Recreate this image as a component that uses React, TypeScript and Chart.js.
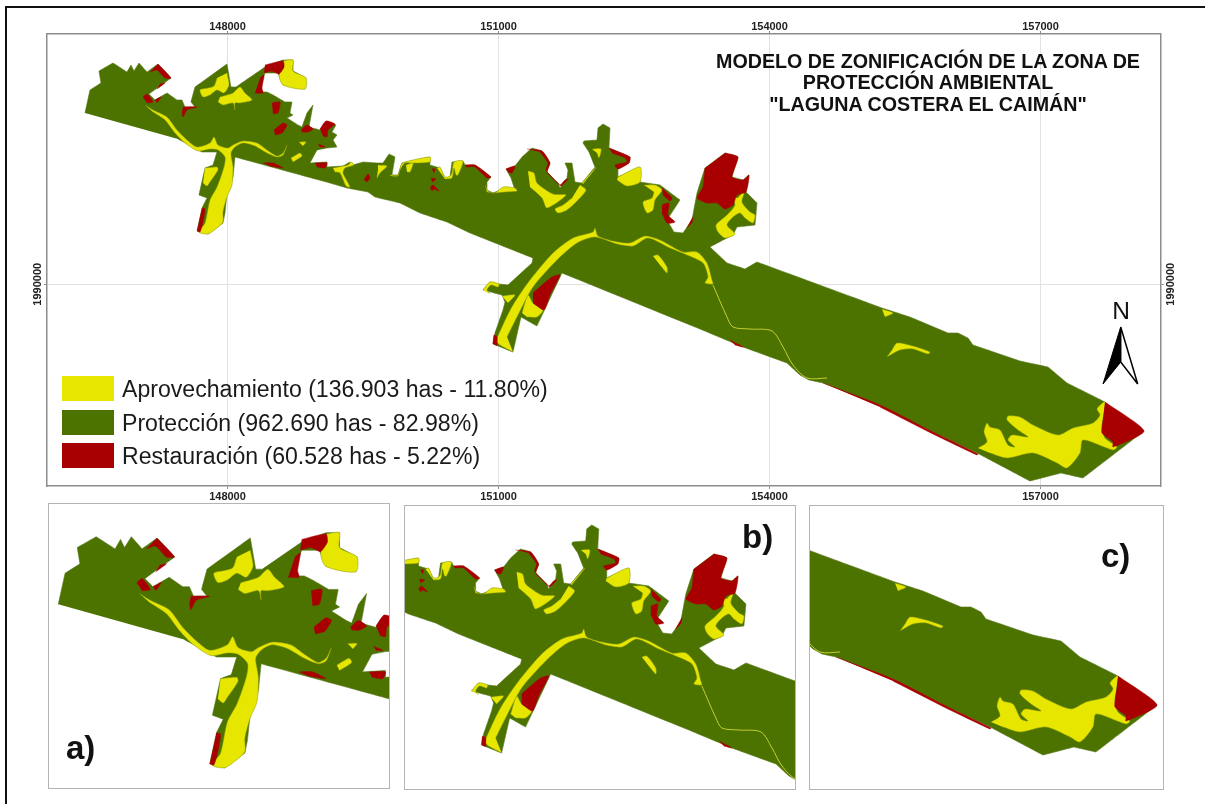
import React, { useEffect, useRef } from "react";
import { Chart, registerables } from "chart.js";

Chart.register(...registerables);

type Pt = [number, number];

const METRES_PER_STEP = 3000 / 271;
const toEasting = (c: number) => 148000 + (c - 227.5) * METRES_PER_STEP;
const toNorthing = (r: number) => 1990000 - (r - 284.3) * METRES_PER_STEP;

const eastingTicks = [148000, 151000, 154000, 157000];
const northingTicks = [1990000];

const protectionOutline: Pt[] = [
  [85,113],[90,90],[101,83],[99,71],[113,63],[127,72],[131,65],[134,71],[139,63],[147,72],[158,64],[171,78],[149,94],[155,100],[167,93],[177,100],[182,100],[185,107],[195,107],[191,102],[195,87],[227,64],[231,87],[236,87],[265,67],[283,60],[293,60],[293,71],[306,78],[305,89],[283,85],[278,73],[265,73],[260,87],[258,92],[267,92],[273,95],[285,102],[292,102],[290,113],[293,115],[287,118],[298,125],[302,127],[307,113],[313,105],[309,127],[320,130],[326,121],[336,125],[332,132],[337,135],[333,140],[337,147],[327,148],[317,150],[310,163],[327,162],[327,167],[343,166],
  [350,162],[353,165],[363,162],[377,163],[383,163],[389,154],[395,157],[392,175],[398,175],[402,163],[430,157],[430,165],[440,168],[445,178],[450,177],[452,162],[463,161],[465,165],[475,165],[491,177],[487,182],[487,190],[493,193],[503,189],
  [504,187],[515,190],[511,178],[506,169],[515,166],[522,157],[532,148],[542,151],[550,163],[547,172],[558,183],[560,188],[567,178],[568,170],[565,163],[572,163],[575,182],[582,183],[595,167],[589,152],[583,143],[584,141],[597,140],[598,128],[603,124],[610,128],[609,148],[630,157],[629,163],[618,169],[618,177],[640,167],[640,182],[660,185],[680,200],[667,220],[674,232],[683,233],[692,220],[697,193],[705,168],[725,153],[738,157],[732,177],[743,180],[749,175],[746,192],[752,198],[757,203],[755,225],[737,227],[733,235],[727,238],[710,247],[727,263],[745,269],[757,262],
  [882,308],[910,317],[948,333],[958,333],[968,338],[973,345],[1020,361],[1048,367],[1067,383],[1103,401],[1144,431],[1083,478],[1061,473],[1030,481],[979,454],[935,433],[880,405],[823,383],[809,380],[800,375],[787,363],[743,347],[700,329],[562,273],
  [537,326],[521,317],[513,352],[493,344],[495,333],[503,310],[505,302],[502,295],[483,290],[490,282],[499,284],[508,285],[532,263],[533,258],[470,233],[447,222],[420,213],[400,203],[375,197],[368,192],[347,188],[330,183],[235,157],[233,177],[227,193],[225,213],[223,223],[208,234],[197,231],[202,208],[207,198],[199,195],[205,168],[213,165],[217,152],[202,152],[178,139],
];

const aprovechamientoAreas: Pt[][] = [
  [[283,61],[293,60],[293,71],[306,78],[305,89],[283,85],[279,75],[284,67]],
  [[227,73],[229,85],[224,93],[217,90],[210,95],[203,97],[200,90],[208,88],[214,86],[217,78]],
  [[220,97],[227,95],[233,93],[240,87],[245,93],[252,100],[240,103],[235,103],[235,110],[233,103],[223,105],[218,102]],
  [[145,105],[153,110],[167,117],[177,130],[187,140],[197,147],[210,143],[214,137],[218,145],[228,148],[233,145],[243,141],[257,143],[267,150],[277,156],[283,153],[287,145],[283,155],[277,157],[267,153],[255,146],[243,143],[235,147],[231,153],[233,167],[232,185],[227,197],[223,212],[223,222],[217,228],[208,234],[199,232],[205,223],[210,200],[217,187],[224,167],[225,157],[218,150],[210,149],[198,151],[185,143],[175,133],[165,120],[153,112]],
  [[205,168],[217,167],[218,170],[210,182],[207,186],[203,183]],
  [[299,142],[306,142],[303,146]],
  [[291,158],[300,153],[302,156],[293,162]],
  [[333,168],[348,165],[351,162],[354,165],[345,168],[343,173],[350,187],[346,186],[340,173],[335,172]],
  [[378,165],[387,166],[380,173],[377,178],[378,170]],
  [[390,175],[398,175],[401,165],[405,162],[430,157],[430,162],[413,163],[405,163],[400,170],[398,176],[391,176]],
  [[406,165],[413,163],[410,172],[407,172]],
  [[437,168],[440,167],[445,177],[450,176],[452,173],[454,162],[463,161],[458,175],[456,175],[454,168],[452,178],[445,179]],
  [[485,185],[488,191],[495,193],[503,187],[515,188],[517,191],[505,192],[494,193],[487,192]],
  [[528,171],[534,173],[537,183],[553,194],[566,195],[547,208],[542,198],[530,187]],
  [[580,185],[586,190],[578,200],[567,210],[558,213],[555,209],[563,205],[572,198]],
  [[592,149],[601,149],[599,158],[597,153]],
  [[582,183],[596,167],[595,169],[583,184]],
  [[618,177],[640,167],[640,182],[627,186],[617,180]],
  [[644,185],[655,185],[662,190],[655,200],[653,210],[647,213],[643,202],[652,198],[654,192]],
  [[733,192],[737,198],[745,190],[742,202],[750,212],[755,215],[753,223],[745,218],[740,213],[733,217],[727,225],[735,234],[725,238],[718,232],[716,225],[727,215],[735,205],[732,198]],
  [[513,352],[497,342],[502,327],[513,305],[530,280],[553,253],[573,238],[593,232],[595,228],[598,236],[613,241],[630,243],[645,236],[660,240],[683,252],[697,252],[707,263],[712,280],[713,284],[705,283],[708,277],[703,263],[687,255],[670,248],[648,238],[633,246],[617,244],[595,237],[577,243],[557,260],[533,287],[517,317],[507,337]],
  [[522,313],[528,295],[533,303],[543,310],[537,317],[527,317]],
  [[483,290],[490,282],[499,284],[498,287],[491,285],[487,290],[490,294]],
  [[502,296],[515,295],[508,303]],
  [[653,256],[658,255],[667,267],[667,273],[660,265]],
  [[882,309],[893,313],[885,317]],
  [[887,357],[892,350],[897,343],[913,346],[930,352],[928,354],[913,349],[900,350],[892,354]],
  [[978,448],[987,442],[984,432],[987,423],[990,427],[1000,430],[1008,445],[1015,447],[1008,440],[1012,435],[1028,437],[1018,430],[1007,420],[1008,416],[1020,417],[1033,425],[1058,435],[1073,428],[1093,423],[1100,415],[1097,409],[1105,402],[1102,427],[1105,438],[1117,447],[1113,450],[1083,440],[1080,453],[1067,468],[1057,463],[1033,453],[1007,458],[990,453]],
];

const restauracionAreas: Pt[][] = [
  [[265,65],[283,61],[284,67],[279,74],[272,71],[264,73]],
  [[143,97],[147,94],[153,102],[147,103]],
  [[158,64],[171,78],[165,78],[157,70],[150,72]],
  [[160,84],[165,83],[157,89]],
  [[155,100],[161,97],[157,103]],
  [[183,107],[197,107],[187,110],[183,117],[182,112]],
  [[260,78],[264,75],[262,88],[263,93],[255,93]],
  [[272,103],[280,102],[278,113],[273,114]],
  [[274,130],[283,123],[287,125],[282,133],[275,135]],
  [[301,130],[307,125],[313,129],[308,132],[302,132]],
  [[320,129],[326,121],[335,124],[328,130],[327,137],[323,136]],
  [[318,144],[325,147],[320,147]],
  [[315,163],[327,163],[325,168],[317,167]],
  [[263,163],[273,163],[283,168],[270,166]],
  [[202,208],[205,209],[203,222],[200,232],[197,231]],
  [[364,180],[368,174],[370,178],[367,182]],
  [[432,169],[435,169],[434,173]],
  [[431,178],[436,179],[432,182]],
  [[430,188],[433,185],[439,191],[434,189],[432,191]],
  [[465,165],[475,165],[491,177],[487,178],[475,167],[466,167]],
  [[506,169],[515,166],[512,173],[508,172]],
  [[527,149],[542,151],[550,163],[547,172],[558,183],[561,186],[568,179],[565,180],[560,185],[553,178],[546,170],[548,163],[540,152]],
  [[609,148],[630,157],[629,163],[618,169],[615,165],[627,162],[625,158],[612,153]],
  [[662,188],[672,198],[670,201],[663,195]],
  [[662,205],[669,203],[668,215],[675,222],[667,223],[662,213]],
  [[725,153],[738,157],[732,177],[743,180],[749,175],[746,192],[737,195],[733,205],[725,209],[717,203],[707,203],[697,198],[703,187],[705,168]],
  [[687,228],[693,217],[692,223]],
  [[533,293],[542,285],[552,277],[560,275],[550,295],[544,310],[533,303]],
  [[493,344],[494,335],[497,337],[497,346]],
  [[730,340],[743,347],[735,345]],
  [[1105,402],[1144,431],[1113,447],[1113,442],[1102,433],[1103,420]],
  [[823,383],[880,405],[933,432],[978,454],[977,455],[933,434],[880,407]],
];

const riverChannel: Pt[] = [
  [713,285],[727,317],[733,327],[750,329],[772,331],[783,347],[793,365],[807,378],[827,378],
];

const legendRows = [
  { label: "Aprovechamiento (136.903 has - 11.80%)", color: "#e6e600" },
  { label: "Protección (962.690 has - 82.98%)", color: "#4c7300" },
  { label: "Restauración (60.528 has - 5.22%)", color: "#a80000" },
];
const titleLines = [
  "MODELO DE ZONIFICACIÓN DE LA ZONA DE",
  "PROTECCIÓN AMBIENTAL",
  "\"LAGUNA COSTERA EL CAIMÁN\"",
];

const YELLOW = legendRows[0].color;
const GREEN = legendRows[1].color;
const RED = legendRows[2].color;
const FONT = "'Liberation Sans', Arial, sans-serif";

const toPoints = (p: Pt[]) => p.map(([c, r]) => ({ x: toEasting(c), y: toNorthing(r) }));

function mapDatasets(): any[] {
  // a non-zero tension keeps every vertex and rounds the digitised patches
  const poly = (p: Pt[], fill: string, edge: string, w: number, order: number, tension: number) => ({
    data: toPoints(p),
    showLine: true,
    pointRadius: 0,
    fill: "shape",
    backgroundColor: fill,
    borderColor: edge,
    borderWidth: w,
    tension,
    capBezierPoints: false,
    order,
  });
  return [
    ...restauracionAreas.map((p) => poly(p, RED, RED, 0.5, 1, 0.2)),
    ...aprovechamientoAreas.map((p) => poly(p, YELLOW, "#8a9a10", 0.5, 2, 0.25)),
    {
      data: toPoints(riverChannel),
      showLine: true,
      pointRadius: 0,
      fill: false,
      borderColor: "#c4cf30",
      borderWidth: 1,
      tension: 0.3,
      capBezierPoints: false,
      order: 3,
    },
    poly(protectionOutline, GREEN, "#55751a", 0.6, 4, 0.001),
  ];
}

const base = {
  type: "scatter",
  options: {
    animation: false,
    responsive: false,
    devicePixelRatio: 1,
    events: [],
    plugins: { legend: { display: false }, tooltip: { enabled: false }, title: { display: false } },
  },
};

function mainConfig(): any {
  const W = 1205, H = 804, L = 47, R = 1160.7, T = 34, B = 486;
  const tick = { font: { family: FONT, size: 11, weight: "bold" }, color: "#222" };
  const frame = { display: true, color: "#8c8c8c", width: 1.5 };
  const xMin = toEasting(L), xMax = toEasting(R), yMin = toNorthing(B), yMax = toNorthing(T);
  const setX = (s: any) => { s.ticks = eastingTicks.map((value) => ({ value })); };
  const setY = (s: any) => { s.ticks = northingTicks.map((value) => ({ value })); };
  return {
    ...base,
    data: { datasets: mapDatasets() },
    options: {
      ...base.options,
      layout: { padding: 0, autoPadding: false },
      scales: {
        x: {
          type: "linear", position: "top", min: xMin, max: xMax,
          afterBuildTicks: setX, afterFit: (s: any) => { s.height = T; },
          border: frame,
          grid: { color: "#e2e2e2", lineWidth: 1, tickLength: 3, tickColor: "#8c8c8c" },
          ticks: { ...tick, padding: -3, maxRotation: 0, callback: (v: any) => String(v) },
        },
        x2: {
          type: "linear", position: "bottom", min: xMin, max: xMax,
          afterBuildTicks: setX, afterFit: (s: any) => { s.height = H - B; },
          border: frame,
          grid: { drawOnChartArea: false, tickLength: 3, tickColor: "#8c8c8c" },
          ticks: { ...tick, padding: 1, maxRotation: 0, callback: (v: any) => String(v) },
        },
        y: {
          type: "linear", position: "left", min: yMin, max: yMax,
          afterBuildTicks: setY, afterFit: (s: any) => { s.width = L; },
          border: frame,
          grid: { color: "#e2e2e2", lineWidth: 1, tickLength: 3, tickColor: "#8c8c8c" },
          ticks: { ...tick, padding: -15, minRotation: 90, maxRotation: 90, crossAlign: "center", callback: (v: any) => String(v) },
        },
        y2: {
          type: "linear", position: "right", min: yMin, max: yMax,
          afterBuildTicks: setY, afterFit: (s: any) => { s.width = W - R; },
          border: frame,
          grid: { drawOnChartArea: false, tickLength: 3, tickColor: "#8c8c8c" },
          ticks: { ...tick, padding: -14, minRotation: 90, maxRotation: 90, crossAlign: "center", callback: (v: any) => String(v) },
        },
      },
    },
  };
}

function insetConfig(view: { c0: number; c1: number; r0: number; r1: number }): any {
  return {
    ...base,
    data: { datasets: mapDatasets() },
    options: {
      ...base.options,
      layout: { padding: 0, autoPadding: false },
      scales: {
        x: { type: "linear", display: false, min: toEasting(view.c0), max: toEasting(view.c1) },
        y: { type: "linear", display: false, min: toNorthing(view.r1), max: toNorthing(view.r0) },
      },
    },
  };
}

const insets = [
  { left: 49, top: 504, w: 340, h: 284, view: { c0: 78.1, c1: 329.6, r0: 38.8, r1: 248.9 }, tag: "a)", tx: 66, ty: 729 },
  { left: 404.5, top: 506, w: 390, h: 283, view: { c0: 416.5, c1: 806, r0: 105, r1: 388 }, tag: "b)", tx: 742, ty: 518 },
  { left: 810, top: 506, w: 353, h: 283, view: { c0: 797, c1: 1150, r0: 232, r1: 515 }, tag: "c)", tx: 1101, ty: 537 },
];

function ChartCanvas({ config, style, width, height }: any) {
  const ref = useRef<HTMLCanvasElement>(null);
  useEffect(() => {
    const chart = new Chart(ref.current as HTMLCanvasElement, config());
    return () => chart.destroy();
  }, []);
  return <canvas ref={ref} width={width} height={height} style={{ display: "block", position: "absolute", ...style }} />;
}

export default function App() {
  return (
    <div style={{ position: "fixed", left: 0, top: 0, width: 1205, height: 804, overflow: "hidden", background: "#fff", fontFamily: FONT, color: "#111" }}>
      <ChartCanvas config={mainConfig} width={1205} height={804} style={{ left: 0, top: 0 }} />
      <div style={{ position: "absolute", left: 5, top: 6, width: 1300, height: 900, borderTop: "2.5px solid #111", borderLeft: "2.5px solid #111" }} />

      {insets.map((ins) => (
        <React.Fragment key={ins.tag}>
          <div style={{ position: "absolute", left: ins.left - 1, top: ins.top - 1, width: ins.w, height: ins.h, border: "1.5px solid #b4b4b4", background: "#fff", boxSizing: "content-box" }} />
          <ChartCanvas config={() => insetConfig(ins.view)} width={ins.w} height={ins.h} style={{ left: ins.left, top: ins.top }} />
          <div style={{ position: "absolute", left: ins.tx, top: ins.ty, fontSize: 33, fontWeight: 700, lineHeight: "38px" }}>{ins.tag}</div>
        </React.Fragment>
      ))}

      {titleLines.map((t, i) => (
        <div key={t} style={{ position: "absolute", left: 628, width: 600, top: [51, 72, 94][i], textAlign: "center", fontSize: 19.7, fontWeight: 700, lineHeight: "21px", whiteSpace: "nowrap" }}>{t}</div>
      ))}

      {legendRows.map((row, i) => (
        <React.Fragment key={row.label}>
          <div style={{ position: "absolute", left: 62, top: 376 + i * 33.6, width: 52, height: 25, background: row.color }} />
          <div style={{ position: "absolute", left: 122, top: 375 + i * 33.6, fontSize: 23.1, lineHeight: "28px", whiteSpace: "nowrap", color: "#1a1a1a" }}>{row.label}</div>
        </React.Fragment>
      ))}

      <div style={{ position: "absolute", left: 1108, top: 298, width: 26, textAlign: "center", fontSize: 24.5, lineHeight: "26px" }}>N</div>
      <svg style={{ position: "absolute", left: 1100, top: 324 }} width={42} height={64}>
        <polygon points="20.7,3 3,60 20.7,38" fill="#000" stroke="#000" strokeWidth="1" />
        <polygon points="20.7,3 37.7,60 20.7,38" fill="#fff" stroke="#000" strokeWidth="1.5" />
      </svg>
    </div>
  );
}
